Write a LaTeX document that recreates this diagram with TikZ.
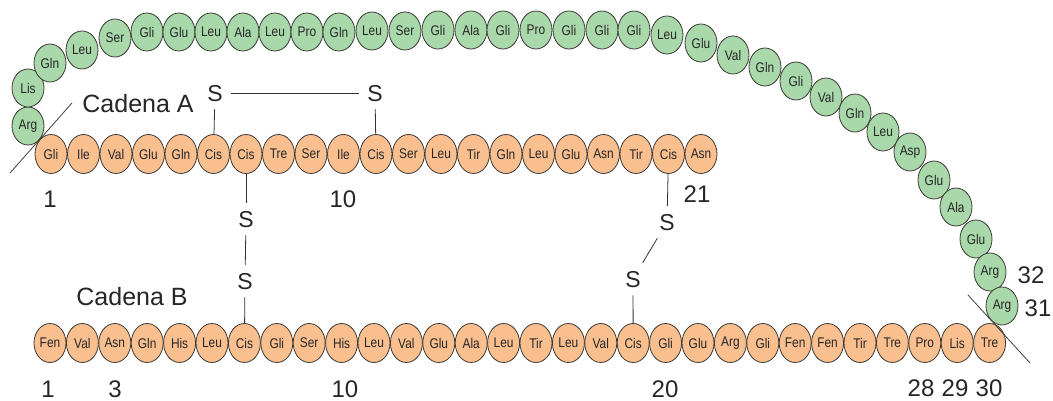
\documentclass[tikz,border=0pt]{standalone}
\usepackage{fontspec}
\setmainfont{Liberation Sans}
\newfontfamily\resfont{Liberation Sans}[FakeStretch=0.85]
\usetikzlibrary{shapes.geometric}
\definecolor{resorange}{HTML}{F9BF8F}
\definecolor{resgreen}{HTML}{A9D8AB}
\definecolor{rim}{HTML}{3C3A36}
\tikzset{
  res/.style={ellipse, draw=rim, line width=0.8pt, minimum width=32pt,
    minimum height=39pt, inner sep=0pt, text=black!85,
    font=\resfont\fontsize{14}{14}\selectfont},
  orangeres/.style={res, fill=resorange},
  greenres/.style={res, fill=resgreen, minimum height=38pt},
  sulfur/.style={inner sep=0pt, outer sep=8pt, text height=16.5pt, text depth=0pt,
    text=black!85, font=\fontsize{23}{23}\selectfont},
  num/.style={inner sep=0pt, text=black!85, font=\fontsize{24}{24}\selectfont},
  chainname/.style={inner sep=0pt, text=black!85, font=\fontsize{25}{25}\selectfont},
  bond/.style={draw=black!80, line width=0.8pt},
  cut/.style={draw=black!75, line width=0.8pt},
}
\begin{document}
\begin{tikzpicture}[x=1pt,y=-1pt]
\useasboundingbox (0,0) rectangle (1053,401);

% connecting peptide (green), from the A-chain end round to the B-chain end
\foreach \n/\px/\py [count=\i] in {
  Arg/28/126, Lis/28/88, Gln/50/63, Leu/82/50, Ser/115/38,
  Gli/147/32, Glu/179/32, Leu/211/32, Ala/243/32, Leu/275/32,
  Pro/307/32, Gln/339/32, Leu/372/31, Ser/405/31, Gli/438/30,
  Ala/471/30, Gli/503/30, Pro/536/30, Gli/569/30, Gli/602/30,
  Gli/634/30, Leu/667/35, Glu/701/43, Val/733/55, Gln/765/67,
  Gli/796/81, Val/826/97, Gln/855/113, Leu/883/132, Asp/910/152,
  Glu/934/180, Ala/956/207, Glu/976/239, Arg/990/272, Arg/1002/306}
  \node[greenres] (c\i) at (\px,\py) {\n};

% chain A
\foreach \n [count=\i] in {Gli,Ile,Val,Glu,Gln,Cis,Cis,Tre,Ser,Ile,Cis,
  Ser,Leu,Tir,Gln,Leu,Glu,Asn,Tir,Cis,Asn}
  \node[orangeres] (a\i) at ({51+(\i-1)*32.5},154) {\n};

% chain B
\foreach \n [count=\i] in {Fen,Val,Asn,Gln,His,Leu,Cis,Gli,Ser,His,Leu,Val,
  Glu,Ala,Leu,Tir,Leu,Val,Cis,Gli,Glu,Arg,Gli,Fen,Fen,Tir,Tre,Pro,Lis,Tre}
  \node[orangeres] (b\i) at ({50+(\i-1)*32.4},343) {\n};

% cleavage marks
\coordinate (cutA1) at (72,103);
\coordinate (cutA2) at (10,173);
\coordinate (cutB1) at (968,295);
\coordinate (cutB2) at (1030,363);
\draw[cut] (cutA1) -- (cutA2);
\draw[cut] (cutB1) -- (cutB2);

% chain names
\node[chainname] (nameA) at (138,104) {Cadena A};
\node[chainname] (nameB) at (132,297) {Cadena B};

% disulfide bridges
\node[sulfur] (sA6) at (215,93) {S};
\node[sulfur] (sA11) at (375,93) {S};
\node[sulfur] (sA7) at (246,219) {S};
\node[sulfur] (sB7) at (245,281) {S};
\node[sulfur] (sA20) at (667,222) {S};
\node[sulfur] (sB19) at (633,279) {S};

\draw[bond] (sA6) -- (sA11);
\draw[bond] (sA6) -- (a6);
\draw[bond] (sA11) -- (a11);
\draw[bond] (a7) -- (sA7);
\draw[bond] (sA7) -- (sB7);
\draw[bond] (sB7) -- (b7);
\draw[bond] (a20) -- (sA20);
\draw[bond] (sA20) -- (sB19);
\draw[bond] (sB19) -- (b19);

% residue numbers
\node[num] (nA1) at (50,199) {1};
\node[num] (nA10) at (343,199) {10};
\node[num] (nA21) at (697,194) {21};
\node[num] (nB1) at (48,389) {1};
\node[num] (nB3) at (115,389) {3};
\node[num] (nB10) at (345,389) {10};
\node[num] (nB20) at (665,389) {20};
\node[num] (nB28) at (921,388) {28};
\node[num] (nB29) at (955,388) {29};
\node[num] (nB30) at (989,388) {30};
\node[num] (nC32) at (1031,275) {32};
\node[num] (nC31) at (1038,308) {31};
\end{tikzpicture}
\end{document}
